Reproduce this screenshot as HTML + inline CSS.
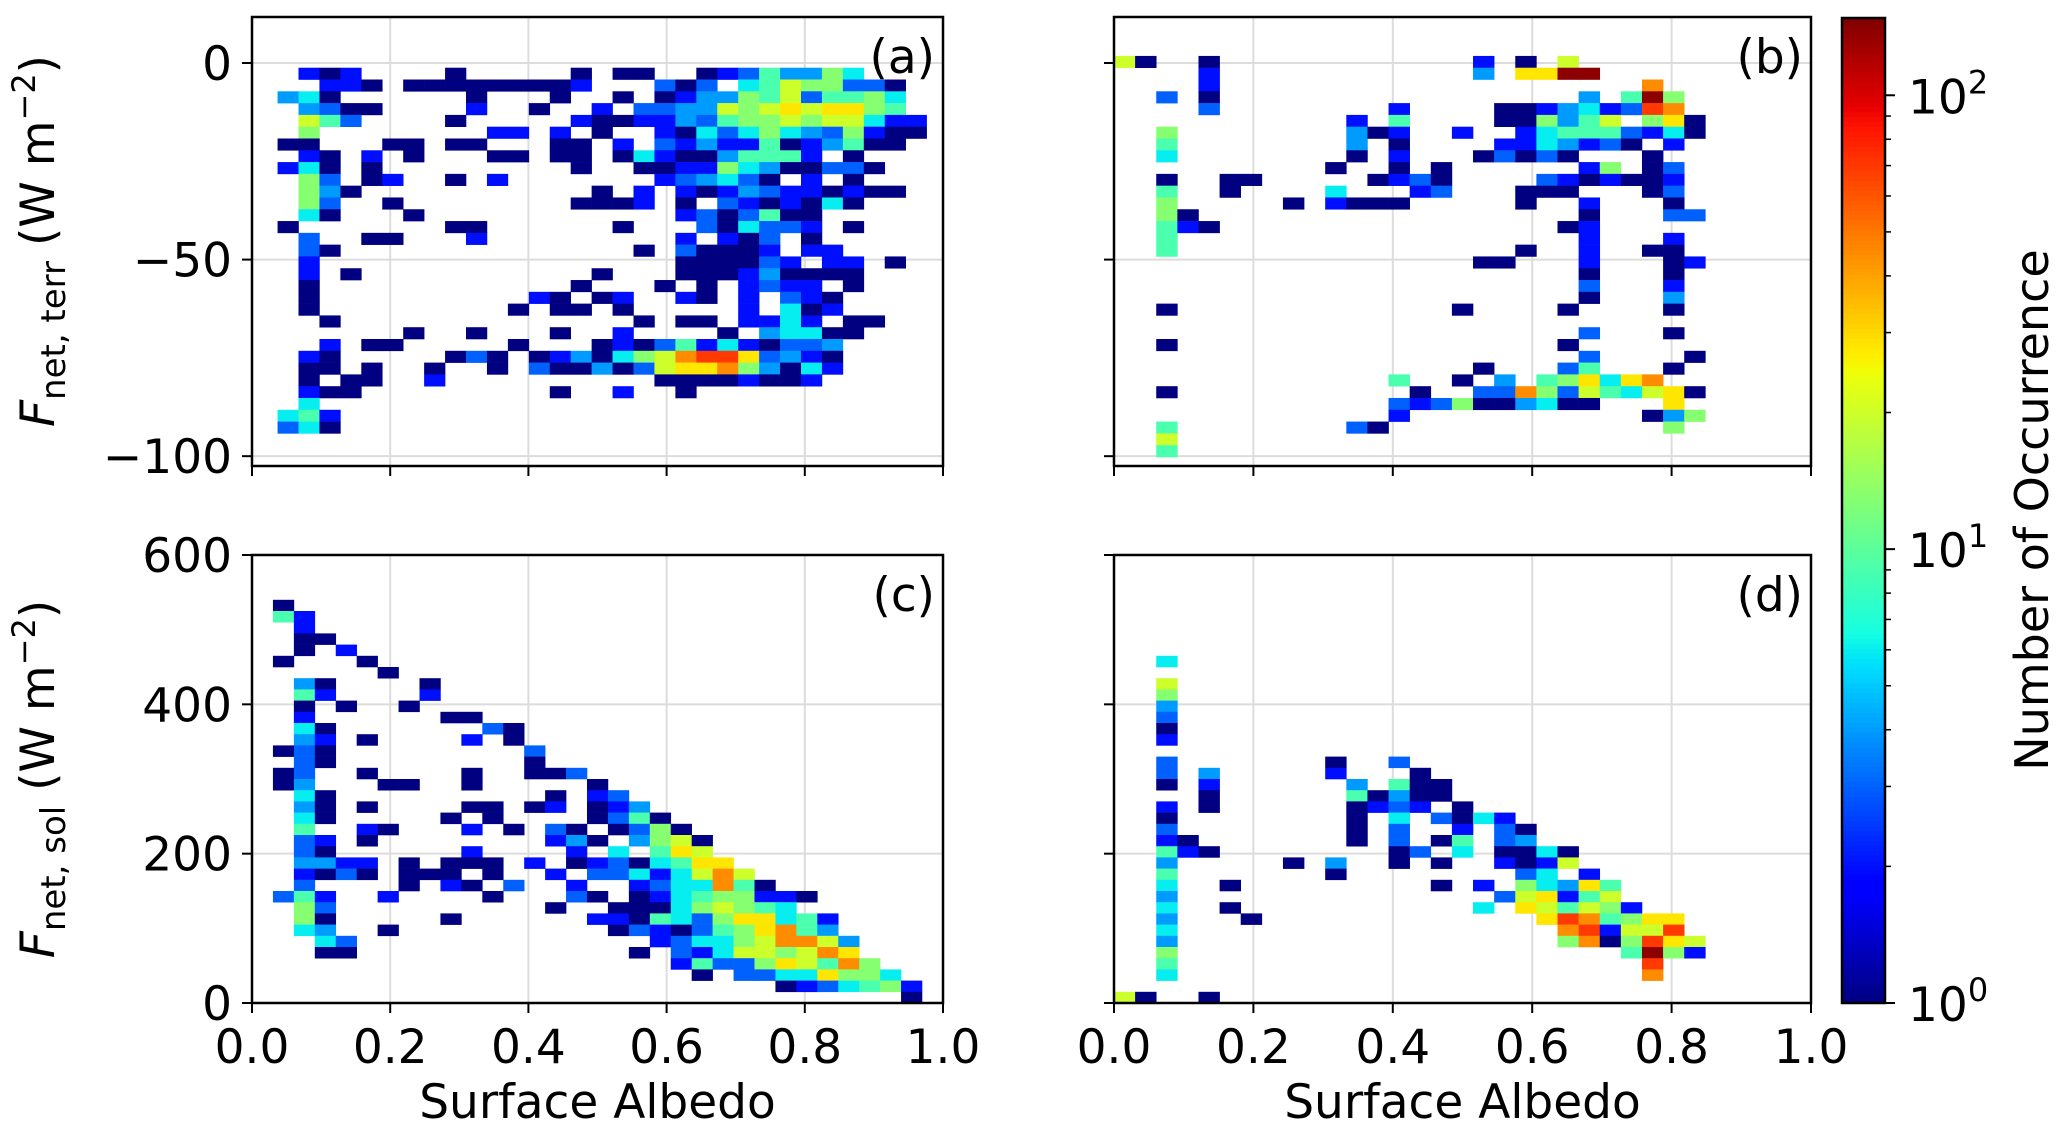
<!DOCTYPE html>
<html><head><meta charset="utf-8"><style>
html,body{margin:0;padding:0;background:#fff;}
svg{display:block;font-family:"DejaVu Sans","Liberation Sans",sans-serif;}
</style></head><body>
<svg id="fig" width="2067" height="1143" viewBox="0 0 2067 1143" xmlns="http://www.w3.org/2000/svg"></svg>
<script>
// ---- data ----
const levelKeys = "abcdefghijkl";
const levelCounts = [1, 2, 3, 4, 6, 9, 13, 20, 28, 45, 70, 140];
const xTicks = [0, 0.2, 0.4, 0.6, 0.8, 1.0];
const xTickLabels = ["0.0", "0.2", "0.4", "0.6", "0.8", "1.0"];
const terrTicks = [0, -50, -100];
const terrTickLabels = ["0", "\u221250", "\u2212100"];
const solTicks = [0, 200, 400, 600];
const solTickLabels = ["0", "200", "400", "600"];
const cbarTicks = [0, 1, 2];
const cbarMax = 148;

const panelA = [
"1b 2a 3b 8a 14a 16a 17a 20a 21b 22c 23f 24d 25d 26g 27e",
"2b 3b 4a 6a 7a 8a 9a 10a 11a 12a 13a 14b 18c 19a 20c 22e 23f 24h 25g 26g 27c 28c 29a",
"0d 1e 2a 9a 13a 16a 18a 19b 20d 21d 22g 23f 24h 25c 26f 27f 28g 29e",
"1d 2c 3a 4a 9b 12a 15b 17c 18c 19d 20d 21h 22g 23h 24i 25h 26i 27i 28g 29f",
"1h 2f 3c 8a 14b 15a 16a 17b 18b 19d 20c 21f 22g 23g 24h 25g 26h 27h 28e 29b 30b",
"1g 10b 11b 13b 15a 18b 19a 20e 21c 22e 23g 24e 25d 26c 27g 28b 29a 30a",
"0a 1a 5a 6a 8a 9a 13a 14a 16b 18c 19b 20d 21b 22b 23f 24a 25b 26d 27f 28a 29a",
"1b 2a 4b 6a 10a 11a 13a 14a 16a 17e 18b 19a 20a 21d 22f 23f 24f 25b 27a",
"0b 1e 2a 4a 14a 17a 18a 19b 20b 21g 22e 23d 24a 25a 26c 27c 28a",
"1g 2c 4a 5b 8a 10b 18b 19c 20d 21e 22c 23a 25b 27a",
"1g 2d 3a 15a 17b 19b 20a 21b 22d 23c 24b 25b 26a 27b 28a 29a",
"1g 2c 5a 14a 15a 16a 17b 19a 21c 22b 23a 24b 25a 26e 27a",
"1e 2a 6a 19b 20c 21a 22c 23f 24a 25a",
"0a 8a 9a 16a 20c 21a 22e 23c 24c 25b 27a",
"1c 4a 5a 9b 19b 21b 22a 23c 25a",
"1c 2a 17a 19c 20a 21a 22a 23b 25b 26b",
"1b 19a 20a 21a 22a 23c 24b 26b 27b 29a",
"1b 3a 15a 19a 20a 21a 22b 23d 24a 25a 26a 27a",
"1a 14a 18a 20a 22b 23c 24b 25b 27a",
"1a 12b 13a 15a 16b 19b 20a 22b 24c 25b 26a",
"1a 11a 13a 14a 16a 22b 24e 25a 26b",
"2a 17a 19a 20a 22b 23b 24e 25b 27a 28a",
"6a 9a 13a 16b 21a 23d 24e 25e 26a 27a",
"2b 4a 5a 11a 15a 16b 17a 18c 19f 20b 21e 22b 23a 24c 25c 26d",
"1b 2a 8a 9c 10a 12a 13b 14d 15a 16e 17g 18h 19j 20k 21k 22i 23c 24d 25b 26a",
"1a 2a 4a 7a 10a 12c 13a 14a 15d 16a 17c 18h 19i 20i 21j 22g 23d 24a 25e 26b",
"1a 3a 4a 7b 18a 19a 20a 21a 22b 23a 24a 25b",
"1b 2a 3a 13a 16b 19a",
"1e",
"0e 1f 2b",
"0c 1e 2a"
];
const panelB = [
"0h 1a 4a 17b 19a 21h",
"4b 17d 19i 20i 21l 22l",
"4b 25j",
"2c 4a 22d 24f 25l 26g",
"4c 13b 18a 19a 20b 21d 22e 23b 24c 25k 26j",
"11b 13f 18a 19a 20g 21d 22f 23h 25g 26i 27a",
"2g 11d 12a 13b 16b 19b 20e 21f 22f 23f 24c 25b 26e 27a",
"2f 11d 13a 18b 19b 20e 21d 22b 23c 24a 26b",
"2e 11a 13b 17a 18c 19a 20c 21a 25a",
"10a 13a 15a 22b 23g 25a 26c",
"2a 5a 6a 12a 13b 14c 15a 20c 21b 22a 23b 24a 25a 26b",
"2f 5a 10e 14b 15c 19a 20a 21a 25a 26c",
"2g 8a 10b 11a 12a 13a 19a 22b 26a",
"2g 3a 22a 26c 27c",
"2f 3b 4a 21a 22b",
"2f 22b 26b",
"2f 19a 22b 25a 26a",
"17a 18a 22b 26a 27b",
"22a 26a",
"22c 26b",
"22a 26d",
"2a 16a 21a 26a",
"",
"22c 26a",
"2a 21a",
"22c 27a",
"17a 21c 22f 26a",
"13f 16a 18d 20f 21g 22i 23e 24i 25j",
"2a 14a 17c 18c 19j 20g 21c 22h 23f 24e 25h 26i 27a",
"13c 14b 15c 16g 17a 18a 19d 20e 21a 22a 26i",
"13b 25a 26d 27g",
"2f 11c 12a 26g",
"2h",
"2f"
];
const panelC = [
"1a",
"1f 2b",
"2b",
"2a 3a",
"2a 4b",
"1a 5a",
"6a",
"2d 3a 8a",
"2f 3b 8b",
"2a 4a 7a",
"2b 9a 10a",
"2e 3a 11c 12a",
"2d 3b 5a 10b 12a",
"1a 2c 3a 13c",
"2c 3a 13a",
"1a 2c 5a 10a 13a 14a 15c",
"1a 2d 6a 7a 10a 16a",
"2e 3a 14a 16b 17c",
"2d 3a 5a 10a 11a 13a 14b 16a 17b 18d",
"2e 3a 9a 11a 16a 17c 18f 19a",
"2f 5b 6a 10b 12a 14c 15a 17a 18c 19g 20a",
"2c 3b 5a 14b 15d 16a 18d 19g 20h 21a",
"2c 3a 10b 15b 17e 19f 20i 21h",
"2d 3d 4b 5b 7a 9a 10a 11a 13b 15a 16b 17c 18a 19e 20f 21i 22i",
"2b 3a 4c 5a 7a 8a 9a 11a 14b 16c 17c 18e 19b 20e 21h 22j 23h",
"2c 7a 9b 10a 12c 15b 18b 19c 20e 21e 22j 23f 24a",
"1c 2f 3b 6b 11a 15c 16a 18a 19b 20e 21f 22g 23g 24b 25b 26a",
"2g 3c 14a 17a 18a 19a 20e 21g 22h 23g 24f 25e",
"2g 3a 9a 16b 17b 18a 19f 20e 21c 22g 23i 24i 25e 26f 27b",
"2e 3d 6a 17a 18c 19b 20a 21c 22f 23g 24i 25j 26f 27d",
"3e 4c 19b 20c 21e 22e 23g 24h 25j 26j 27h 28d",
"3a 4a 18a 20c 21b 22e 23h 24h 25g 26h 27j 28i",
"20b 21f 22c 23c 24g 25i 26h 27f 28j 29g",
"21a 23c 24c 25e 26e 27i 28g 29g 30e",
"25a 26b 27c 28e 29f 30g 31b",
"31a"
];
const panelD = [
"2e", "", "2h", "2g", "2d", "2c", "2a", "2b", "",
"2c 10a 13c",
"2c 4d 10b 14a",
"2a 4b 11d 13f 14a 15a",
"4a 11f 12a 13d 14a 15a",
"2b 4a 11a 12b 13c 14b 16a",
"2a 11a 13e 15c 16a 17e 18b",
"2c 11a 13c 16b 18c 19a",
"2b 3a 11a 13c 15a 16f 18c 19d",
"2f 3b 4a 13a 14c 16e 18a 19a 20e 21a",
"2d 8a 10d 13a 15a 18b 19a 20b 21h",
"2f 10a 19c 20e 22b",
"2e 5a 15a 17b 19g 20e 21d 22i 23f",
"2d 18c 19h 20i 21b 22f 23h",
"2e 5a 17e 19i 20h 21f 22h 23g 24b",
"2d 6a 20i 21k 22j 23f 24g 25i 26i",
"2e 21j 22k 23b 24h 25h 26k",
"2d 21g 22j 23a 24g 25k 26i 27h",
"2g 24f 25l 26g 27b",
"2f 25k",
"2e 25j",
"",
"0h 1a 4a"
];

// ---- helpers ----
const NS = "http://www.w3.org/2000/svg";
const svg = document.getElementById("fig");
function mk(tag, attrs, parent) {
  const e = document.createElementNS(NS, tag);
  for (const k in attrs) e.setAttribute(k, attrs[k]);
  (parent || svg).appendChild(e);
  return e;
}
function interp(pts, t) {
  for (let i = 1; i < pts.length; i++) {
    if (t <= pts[i][0]) {
      const a = pts[i - 1], b = pts[i];
      return a[1] + (b[1] - a[1]) * (t - a[0]) / (b[0] - a[0]);
    }
  }
  return pts[pts.length - 1][1];
}
function jet(t) {
  t = Math.max(0, Math.min(1, t));
  const r = interp([[0,0],[0.35,0],[0.66,1],[0.89,1],[1,0.5]], t);
  const g = interp([[0,0],[0.125,0],[0.375,1],[0.64,1],[0.91,0],[1,0]], t);
  const b = interp([[0,0.5],[0.11,1],[0.34,1],[0.65,0],[1,0]], t);
  return "rgb(" + Math.round(r*255) + "," + Math.round(g*255) + "," + Math.round(b*255) + ")";
}
function colorOf(count) { return jet(Math.log10(count) / Math.log10(cbarMax)); }

const panels = [
  {id:"a", rows:panelA, left:252, right:943, top:17, bottom:466, vmin:-102.5, vmax:11.7, x0:0.037, dx:0.0303, rowTop:-1.2, rowH:3, ticks:terrTicks, tl:terrTickLabels, ylab:true, xlab:false},
  {id:"b", rows:panelB, left:1114, right:1811, top:17, bottom:466, vmin:-102.5, vmax:11.7, x0:0, dx:0.0303, rowTop:1.8, rowH:3, ticks:terrTicks, tl:terrTickLabels, ylab:false, xlab:false},
  {id:"c", rows:panelC, left:252, right:943, top:555, bottom:1003, vmin:0, vmax:600, x0:0, dx:0.0303, rowTop:540, rowH:15, ticks:solTicks, tl:solTickLabels, ylab:true, xlab:true},
  {id:"d", rows:panelD, left:1114, right:1811, top:555, bottom:1003, vmin:0, vmax:600, x0:0, dx:0.0303, rowTop:465, rowH:15, ticks:solTicks, tl:solTickLabels, ylab:false, xlab:true}
];

panels.forEach(function (p) {
  const xs = function (a) { return p.left + a * (p.right - p.left); };
  const ys = function (v) { return p.bottom - (v - p.vmin) / (p.vmax - p.vmin) * (p.bottom - p.top); };
  const g = mk("g", {});
  
  
  xTicks.forEach(function (t) {
    if (t > 0 && t < 1) {
      const l = mk("line", {x1:xs(t), x2:xs(t), y1:p.top, y2:p.bottom, stroke:"#dcdcdc", "stroke-width":2}, g);
      
      
    }
  });
  p.ticks.forEach(function (t) {
    const l = mk("line", {x1:p.left, x2:p.right, y1:ys(t), y2:ys(t), stroke:"#dcdcdc", "stroke-width":2}, g);
    
    
  });
  p.rows.forEach(function (row, r) {
    if (!row) return;
    const vTop = p.rowTop - p.rowH * r;
    const vBot = vTop - p.rowH;
    row.split(" ").forEach(function (tok) {
      const col = parseInt(tok, 10);
      const lvl = levelKeys.indexOf(tok[tok.length - 1]);
      const count = levelCounts[lvl];
      const xa = xs(p.x0 + p.dx * col), xb = xs(p.x0 + p.dx * (col + 1));
      const rc = mk("rect", {x:xa, y:ys(vTop), width:xb - xa + 0.3, height:ys(vBot) - ys(vTop) + 0.3, fill:colorOf(count)}, g);
      
      
    });
  });
  const fr = mk("rect", {x:p.left, y:p.top, width:p.right - p.left, height:p.bottom - p.top, fill:"none", stroke:"#000", "stroke-width":2.5}, g);
  
  
  xTicks.forEach(function (t, i) {
    const tk = mk("line", {x1:xs(t), x2:xs(t), y1:p.bottom, y2:p.bottom + 10, stroke:"#000", "stroke-width":2}, g);
    
    
    if (p.xlab) {
      const tx = mk("text", {x:xs(t), y:p.bottom + 60, "text-anchor":"middle", "font-size":47, fill:"#000"}, g);
      tx.textContent = xTickLabels[i];
      
      
    }
  });
  p.ticks.forEach(function (t, i) {
    const tk = mk("line", {x1:p.left - 10, x2:p.left, y1:ys(t), y2:ys(t), stroke:"#000", "stroke-width":2}, g);
    
    
    if (p.ylab) {
      const tx = mk("text", {x:p.left - 20, y:ys(t) + 17, "text-anchor":"end", "font-size":47, fill:"#000"}, g);
      tx.textContent = p.tl[i];
      
      
    }
  });
  const pl = mk("text", {x:p.right - 8, y:p.top + 56, "text-anchor":"end", "font-size":47, fill:"#000"}, g);
  pl.textContent = "(" + p.id + ")";
  
  
  if (p.xlab) {
    const xl = mk("text", {x:(p.left + p.right) / 2, y:1118, "text-anchor":"middle", "font-size":47, fill:"#000"}, g);
    xl.textContent = "Surface Albedo";
    
    
  }
});

function yTitle(cy, sub, name) {
  const t = mk("text", {transform:"translate(54," + cy + ") rotate(-90)", "text-anchor":"middle", "font-size":47, fill:"#000"});
  
  
  t.innerHTML = '<tspan font-style="italic">F</tspan><tspan font-size="34" dy="11">' + sub + '</tspan><tspan dy="-11"> (W m</tspan><tspan font-size="32" dy="-19">\u22122</tspan><tspan dy="19">)</tspan>';
}
yTitle(241, "net, terr", "y-axis-title-terr");
yTitle(779, "net, sol", "y-axis-title-sol");

const cb = {left:1842, right:1885, top:18, bottom:1003};
const cbG = mk("g", {});


const cbMaxLog = Math.log10(cbarMax);
const nSteps = 200;
for (let i = 0; i < nSteps; i++) {
  const h = (cb.bottom - cb.top) / nSteps;
  const s = mk("rect", {x:cb.left, y:cb.bottom - (i + 1) * h, width:cb.right - cb.left, height:h + 0.6, fill:jet((i + 0.5) / nSteps)}, cbG);
  
  
}
const cbF = mk("rect", {x:cb.left, y:cb.top, width:cb.right - cb.left, height:cb.bottom - cb.top, fill:"none", stroke:"#000", "stroke-width":2.5}, cbG);


const cbY = function (lg) { return cb.bottom - lg / cbMaxLog * (cb.bottom - cb.top); };
cbarTicks.forEach(function (e) {
  const y = cbY(e);
  const tk = mk("line", {x1:cb.right, x2:cb.right + 10, y1:y, y2:y, stroke:"#000", "stroke-width":2}, cbG);
  
  
  const tx = mk("text", {x:1908, y:y + 18, "font-size":47, fill:"#000"}, cbG);
  tx.innerHTML = '10<tspan font-size="32" dy="-20">' + e + '</tspan>';
  
  
  for (let m = 2; m <= 9; m++) {
    const lg = e + Math.log10(m);
    if (lg > cbMaxLog) break;
    const my = cbY(lg);
    const mt = mk("line", {x1:cb.right, x2:cb.right + 6, y1:my, y2:my, stroke:"#000", "stroke-width":1.5}, cbG);
    
    
  }
});
const cbl = mk("text", {transform:"translate(2048,510) rotate(-90)", "text-anchor":"middle", "font-size":46, fill:"#000"}, cbG);
cbl.textContent = "Number of Occurrence";


</script>
</body></html>
